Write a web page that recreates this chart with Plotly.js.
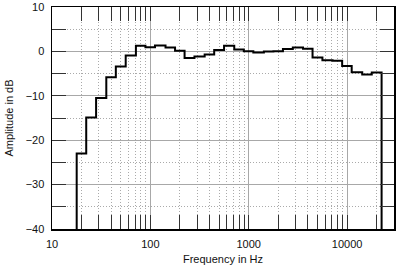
<!DOCTYPE html>
<html>
<head>
<meta charset="utf-8">
<script src="https://cdn.plot.ly/plotly-3.0.1.min.js"></script>
<style>html,body{margin:0;padding:0;background:#fff;}#chart{width:400px;height:273px;}</style>
</head>
<body>
<div id="chart"></div>
<script>
// 1/3-octave band centre frequencies (Hz)
var bandCenters = [20, 25, 31.5, 40, 50, 63, 80, 100, 125, 160, 200, 250, 315, 400, 500, 630, 800,
  1000, 1250, 1600, 2000, 2500, 3150, 4000, 5000, 6300, 8000, 10000, 12500, 16000, 20000];
// Amplitude in dB per band
var bandLevels = [-23, -14.9, -10.5, -5.8, -3.4, -0.9, 1.3, 0.95, 1.35, 0.9, 0.15, -1.5, -1.15, -0.7, 0.3, 1.25, 0.45,
  0.05, -0.25, 0, 0.05, 0.55, 0.9, 0.6, -1.4, -2.0, -2.1, -3.3, -4.7, -5.2, -4.75];
var floorLevel = -40;

var xMajorTicks = [10, 100, 1000, 10000];
var xMajorLabels = ['10', '100', '1000', '10000'];
var xMinorTicks = [20, 30, 40, 50, 60, 70, 80, 90, 200, 300, 400, 500, 600, 700, 800, 900,
  2000, 3000, 4000, 5000, 6000, 7000, 8000, 9000, 20000];
var yMajorTicks = [-40, -30, -20, -10, 0, 10];
var yMinorTicks = [-35, -25, -15, -5, 5];

// band edges (1/3 octave = 1/10 decade)
var half = Math.pow(10, 0.05);
var xs = [], ys = [];
xs.push(bandCenters[0] / half); ys.push(floorLevel);
for (var i = 0; i < bandCenters.length; i++) {
  xs.push(bandCenters[i] / half); ys.push(bandLevels[i]);
}
var last = bandCenters.length - 1;
xs.push(bandCenters[last] * half); ys.push(bandLevels[last]);
xs.push(bandCenters[last] * half); ys.push(floorLevel);

var font = {family: 'Liberation Sans, Arial, sans-serif', size: 11, color: '#111'};

var trace = {
  x: xs, y: ys, type: 'scatter', mode: 'lines',
  line: {shape: 'hv', color: '#000', width: 2},
  hoverinfo: 'skip', cliponaxis: true
};

var layout = {
  width: 400, height: 273,
  margin: {l: 52, r: 6, t: 7, b: 44},
  paper_bgcolor: '#fff', plot_bgcolor: '#fff',
  showlegend: false,
  font: font,
  xaxis: {
    type: 'log', range: [1, Math.log10(30000)],
    tickmode: 'array', tickvals: xMajorTicks, ticktext: xMajorLabels,
    ticks: 'inside', ticklen: 14, tickwidth: 1, tickcolor: '#333',
    showgrid: true, gridcolor: '#a8a8a8', gridwidth: 1,
    showline: true, linecolor: '#000', linewidth: 1.5, mirror: 'ticks',
    zeroline: false, ticklabelstandoff: 4,
    minor: {tickmode: 'array', tickvals: xMinorTicks, ticks: 'inside', ticklen: 14, tickwidth: 1, tickcolor: '#333',
      showgrid: true, gridcolor: '#aaa', griddash: '1px,2px', gridwidth: 1},
    title: {text: 'Frequency in Hz', font: font, standoff: 6}
  },
  yaxis: {
    range: [-40, 10],
    tickmode: 'array', tickvals: yMajorTicks,
    ticks: 'inside', ticklen: 14, tickwidth: 1, tickcolor: '#333',
    showgrid: true, gridcolor: '#a8a8a8', gridwidth: 1,
    showline: true, linecolor: '#000', linewidth: 1.5, mirror: 'ticks',
    zeroline: false, ticklabelstandoff: 4,
    minor: {tickmode: 'array', tickvals: yMinorTicks, ticks: 'inside', ticklen: 14, tickwidth: 1, tickcolor: '#333',
      showgrid: true, gridcolor: '#aaa', griddash: '1px,2px', gridwidth: 1},
    title: {text: 'Amplitude in dB', font: font, standoff: 10}
  }
};

Plotly.newPlot('chart', [trace], layout, {staticPlot: true, displayModeBar: false});
</script>
</body>
</html>
